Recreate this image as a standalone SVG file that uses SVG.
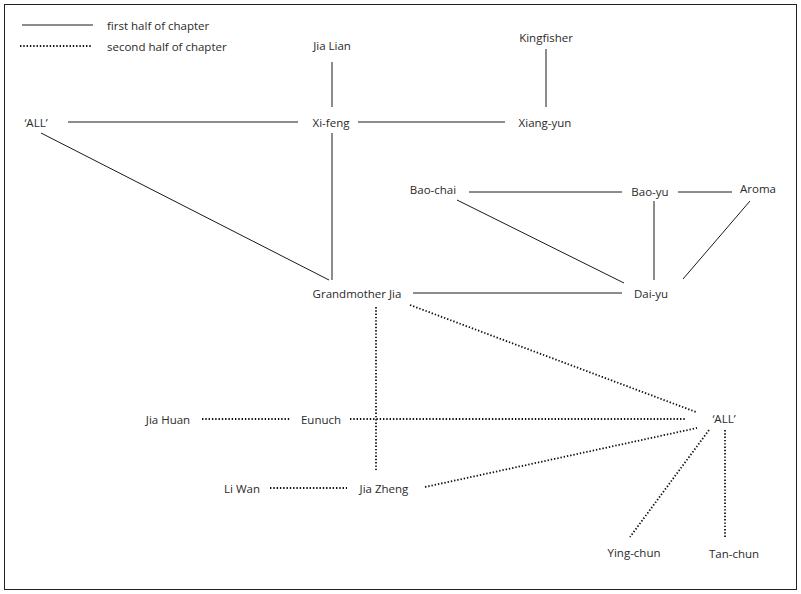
<svg xmlns="http://www.w3.org/2000/svg" width="801" height="594" viewBox="0 0 801 594">
<style>
text{font-family:"Open Sans","Noto Sans",sans-serif;font-size:11.5px;fill:#2a2a2a;dominant-baseline:central}
.s{stroke:#1a1a1a;stroke-width:1;fill:none}
.d{stroke:#111;stroke-width:1.8;fill:none;stroke-dasharray:1.4 1.9}
</style>
<rect x="4.5" y="4.5" width="792" height="585" fill="#fff" stroke="#222" stroke-width="1"/>
<g id="legend">
<line class="s" x1="22" y1="25" x2="93" y2="25"/>
<text x="107" y="25">first half of chapter</text>
<line class="d" x1="20" y1="46" x2="91" y2="46"/>
<text x="107" y="46">second half of chapter</text>
</g>
<g id="connectors">
<line class="s" x1="332" y1="62" x2="332" y2="107"/>
<line class="s" x1="68" y1="122" x2="298" y2="122"/>
<line class="s" x1="358" y1="122" x2="505" y2="122"/>
<line class="s" x1="546" y1="49" x2="546" y2="107"/>
<line class="s" x1="41" y1="133" x2="329" y2="280"/>
<line class="s" x1="332" y1="133" x2="332" y2="280"/>
<line class="s" x1="413" y1="293" x2="622" y2="293"/>
<line class="s" x1="469" y1="192" x2="622" y2="192"/>
<line class="s" x1="678" y1="192" x2="732" y2="192"/>
<line class="s" x1="654" y1="201" x2="654" y2="280"/>
<line class="s" x1="750" y1="201" x2="683" y2="279"/>
<line class="s" x1="457" y1="200" x2="624" y2="283"/>
<line class="d" x1="376" y1="307" x2="376" y2="471"/>
<line class="d" x1="410" y1="305" x2="696" y2="412"/>
<line class="d" x1="202" y1="419" x2="291" y2="419"/>
<line class="d" x1="350" y1="419" x2="685" y2="419"/>
<line class="d" x1="270" y1="488" x2="347" y2="488"/>
<line class="d" x1="425" y1="487" x2="697" y2="428"/>
<line class="d" x1="709" y1="430" x2="630" y2="537"/>
<line class="d" x1="725" y1="430" x2="725" y2="537"/>
</g>
<g id="jia-lian"><text x="332" y="45" text-anchor="middle">Jia Lian</text></g>
<g id="kingfisher"><text x="546" y="37" text-anchor="middle">Kingfisher</text></g>
<g id="all-left"><text x="36" y="122" text-anchor="middle">‘ALL’</text></g>
<g id="xi-feng"><text x="331" y="122" text-anchor="middle">Xi-feng</text></g>
<g id="xiang-yun"><text x="545" y="122" text-anchor="middle">Xiang-yun</text></g>
<g id="bao-chai"><text x="433" y="189" text-anchor="middle">Bao-chai</text></g>
<g id="bao-yu"><text x="650" y="191" text-anchor="middle">Bao-yu</text></g>
<g id="aroma"><text x="758" y="188" text-anchor="middle">Aroma</text></g>
<g id="grandmother-jia"><text x="357" y="293" text-anchor="middle">Grandmother Jia</text></g>
<g id="dai-yu"><text x="651" y="293" text-anchor="middle">Dai-yu</text></g>
<g id="jia-huan"><text x="168" y="419" text-anchor="middle">Jia Huan</text></g>
<g id="eunuch"><text x="321" y="419" text-anchor="middle">Eunuch</text></g>
<g id="all-right"><text x="724" y="418" text-anchor="middle">‘ALL’</text></g>
<g id="li-wan"><text x="242" y="488" text-anchor="middle">Li Wan</text></g>
<g id="jia-zheng"><text x="384" y="488" text-anchor="middle">Jia Zheng</text></g>
<g id="ying-chun"><text x="634" y="552" text-anchor="middle">Ying-chun</text></g>
<g id="tan-chun"><text x="734" y="553" text-anchor="middle">Tan-chun</text></g>
</svg>
